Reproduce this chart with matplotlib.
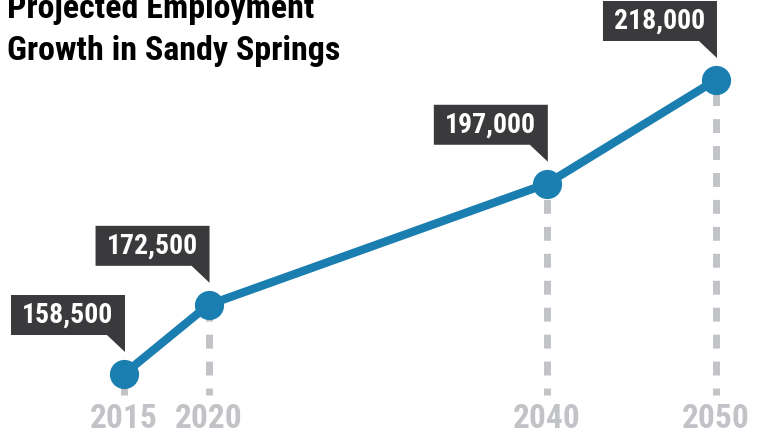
import matplotlib
matplotlib.use("Agg")
import matplotlib.pyplot as plt
from matplotlib.patches import Polygon
from matplotlib.transforms import Affine2D

years = [2015, 2020, 2040, 2050]
jobs = [158500, 172500, 197000, 218000]
labels = ["158,500", "172,500", "197,000", "218,000"]

plt.rcParams['font.family'] = ['Roboto Condensed', 'Archivo Narrow', 'DejaVu Sans']
plt.rcParams['lines.scale_dashes'] = False

W, H, DPI = 764, 434, 100
fig = plt.figure(figsize=(W / DPI, H / DPI), dpi=DPI)
ax = fig.add_axes([0, 0, 1, 1])
ax.set_xlim(2007.67, 2052.84)
ax.set_ylim(146357, 234191)
ax.axis("off")

blue = "#1a7fb0"
grey = "#c2c3c7"
dark = "#3a3a3c"

# dashed drop lines, drawn from the bottom up
base_y = 154250
for x, y in zip(years, jobs):
    ax.plot([x, x], [base_y, y], color=grey, lw=5,
            linestyle=(5, (10, 9.4)), solid_capstyle="butt", zorder=1)

ax.plot(years, jobs, color=blue, lw=6, zorder=2)
ax.plot(years, jobs, "o", color=blue, ms=20, zorder=3)

# callout boxes with a little pointer, sized in pixels
shape = [(-113, 39), (-113, 79), (1, 79), (1, 22), (-17, 39)]
for x, y, lab in zip(years, jobs, labels):
    px, py = ax.transData.transform((x, y))
    tr = Affine2D().translate(px, py)
    ax.add_patch(Polygon(shape, closed=True, facecolor=dark, edgecolor="none",
                         transform=tr, zorder=4))
    fig.text((px - 56) / W, (py + 59) / H, lab, color="white", fontsize=20,
             fontweight="bold", ha="center", va="center", zorder=5)

# year labels
for x in years:
    px, _ = ax.transData.transform((x, 0))
    fig.text(px / W, 1 - 428 / H, str(x), color=grey, fontsize=24,
             fontweight="bold", ha="center", va="baseline")

fig.text(7 / W, 1 - 18 / H, "Projected Employment", fontsize=24.5,
         fontweight="bold", color="black", va="baseline")
fig.text(7 / W, 1 - 60 / H, "Growth in Sandy Springs", fontsize=24.5,
         fontweight="bold", color="black", va="baseline")

fig.savefig("out.png", dpi=DPI)
